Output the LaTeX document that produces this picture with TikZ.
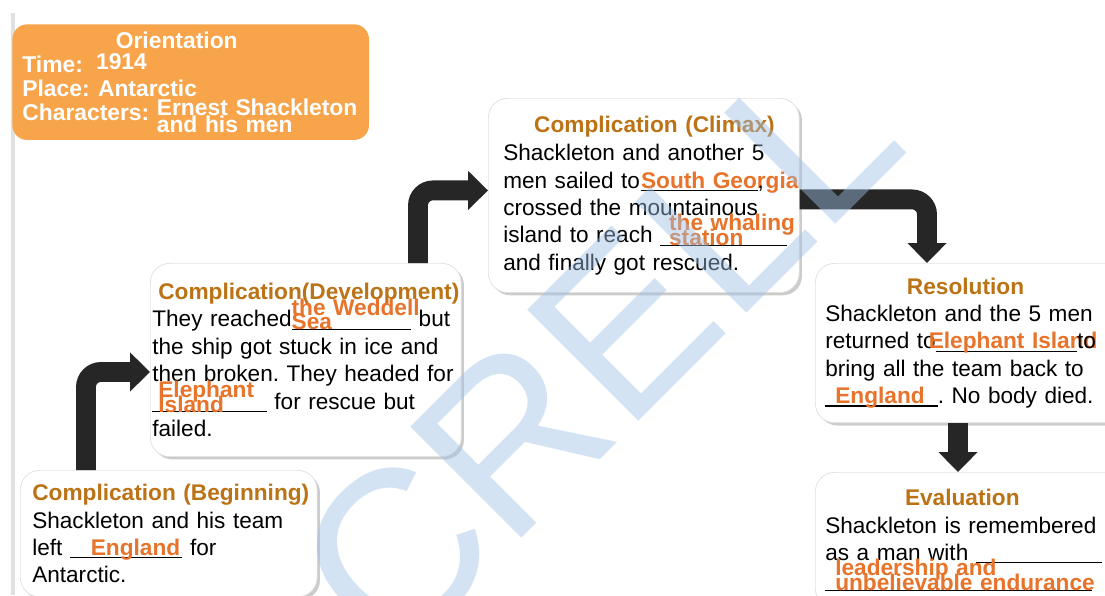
\documentclass[tikz,border=0pt]{standalone}
\usepackage{fontspec}
\setmainfont{Liberation Sans}
\usetikzlibrary{shapes,arrows.meta,shadows,positioning}
\definecolor{orangebox}{HTML}{F7A44A}
\definecolor{titlebrown}{HTML}{BB7316}
\definecolor{answer}{HTML}{E8732A}
\definecolor{arrowblack}{HTML}{262626}
\definecolor{markblue}{HTML}{9DC0E6}
\newdimen\pxu \pxu=0.5669pt
\frenchspacing
\newcommand{\bodyfont}{\fontsize{12.85pt}{15.6pt}\selectfont}
\newcommand{\infofont}{\fontsize{13pt}{13.6pt}\selectfont\bfseries}
\newcommand{\boldfont}{\fontsize{12.9pt}{15.6pt}\selectfont\bfseries}
\newcommand{\heading}[1]{\mbox{\boldfont\color{titlebrown}#1}}
% blank with answer: [offset]{width}{answer}
\newcommand{\fillin}[3][0pt]{\rlap{\rule[-3\pxu]{#2}{0.7pt}}\rlap{\hspace{#1}\smash{\boldfont\color{answer}#3}}\hspace{#2}}
% blank with two-line answer: [offset]{width}{line1}{line2}
\newcommand{\fillinii}[4][0pt]{\rlap{\rule[-3\pxu]{#2}{0.7pt}}\rlap{\hspace{#1}\smash{\raisebox{-3\pxu}{\boldfont\color{answer}\parbox[b]{300\pxu}{\lineskiplimit=-\maxdimen\baselineskip=15\pxu #3\\#4}}}}\hspace{#2}}
\tikzstyle{card} = [rectangle, rounded corners=11pt, fill=white, draw=black!12, drop shadow={shadow xshift=1.6pt, shadow yshift=-1.6pt, opacity=0.4}, align=left, anchor=north west, inner ysep=0pt, font=\bodyfont]
\tikzstyle{infobox} = [rectangle, rounded corners=8.5pt, fill=orangebox, text=white, font=\infofont, align=left, anchor=north west, minimum width=203pt, minimum height=65.8pt, text width=191.6pt, inner xsep=5.67pt, inner ysep=0pt]
\tikzstyle{flow} = [line width=11.3pt, arrowblack, rounded corners=8.5pt, -{Triangle[length=11.3pt, width=21.5pt]}]
\tikzstyle{watermark} = [rotate=45, anchor=base west, inner sep=0pt, text=markblue, opacity=0.45, font=\fontsize{130pt}{130pt}\selectfont]

\begin{document}
\begin{tikzpicture}[x=0.02cm, y=-0.02cm]
\useasboundingbox (0,0) rectangle (1105,595);
\clip (0,0) rectangle (1105,595);
\fill[black!12] (11,13) rectangle (15,595);

\node[infobox] (orient) at (12,24) {\makebox[310\pxu]{Orientation}\\
	\makebox[74\pxu][l]{Time:}\raisebox{3\pxu}{1914}\\
	\makebox[76\pxu][l]{Place:}Antarctic\\
	\makebox[135\pxu][l]{Characters:}\raisebox{5\pxu}{\parbox[t]{240\pxu}{\lineskiplimit=-\maxdimen\baselineskip=17\pxu Ernest Shackleton\\and his men}}};

\node[card, minimum width=168.9pt, minimum height=72pt, text width=155.3pt, inner xsep=6.8pt] (begin) at (20,470) {\heading{Complication (Beginning)}\\
	\mbox{Shackleton and his team}\\
	\mbox{left \fillin[21\pxu]{113\pxu}{England} for}\\
	Antarctic.};
\node[card, minimum width=176.9pt, minimum height=110pt, text width=174.6pt, inner xsep=1.13pt] (dev) at (150,263) {\hspace*{6\pxu}\heading{Complication(Development)}\\
	\mbox{They reached\fillinii{120\pxu}{the Weddell}{Sea} but}\\
	\mbox{the ship got stuck in ice and}\\
	\mbox{then broken. They headed for}\\
	\mbox{\fillinii[6\pxu]{115\pxu}{Elephant}{Island} for rescue but}\\
	failed.};
\node[card, minimum width=176.9pt, minimum height=110.5pt, text width=159.9pt, inner xsep=8.5pt] (climax) at (488,98) {\hspace*{31\pxu}\heading{Complication (Climax)}\\[0.6pt]
	\mbox{Shackleton and another 5}\\
	\mbox{men sailed to\hspace{1\pxu}\fillin{117\pxu}{South Georgia},}\\
	\mbox{crossed the mountainous}\\
	\mbox{island to reach \fillinii[9\pxu]{127\pxu}{the whaling}{station}}\\
	\mbox{and finally got rescued.}};
\node[card, minimum width=175.7pt, minimum height=90.7pt, text width=164.4pt, inner xsep=5.67pt] (res) at (815,263) {\hspace*{82\pxu}\heading{Resolution}\\
	\mbox{Shackleton and the 5 men}\\
	\mbox{returned to\fillin[-7\pxu]{142\pxu}{Elephant Island}to}\\
	\mbox{bring all the team back to}\\
	\mbox{\fillin[10\pxu]{113\pxu}{England}. No body died.}};
\node[card, minimum width=175.7pt, minimum height=77.1pt, text width=164.4pt, inner xsep=5.67pt] (eval) at (815,472) {\hspace*{80\pxu}\heading{Evaluation}\\
	\mbox{Shackleton is remembered}\\
	\mbox{as a man with \fillin{127\pxu}{}}\\
	\mbox{\fillinii[10\pxu]{268\pxu}{leadership and}{unbelievable endurance}}};

\draw[flow] ([shift={(66,0)}]begin.north west) |- ([shift={(0,12)}]dev.west);
\draw[flow] ([shift={(268,0)}]dev.north west) |- ([shift={(0,-5)}]climax.west);
\draw[flow] ([shift={(0,4)}]climax.east) -| ([shift={(112,0)}]res.north west);
\draw[flow] ([shift={(143,0)}]res.south west) -- ([shift={(143,0)}]eval.north west);

\node[watermark] (mark) at (392,668) {CRELL};
\end{tikzpicture}
\end{document}
